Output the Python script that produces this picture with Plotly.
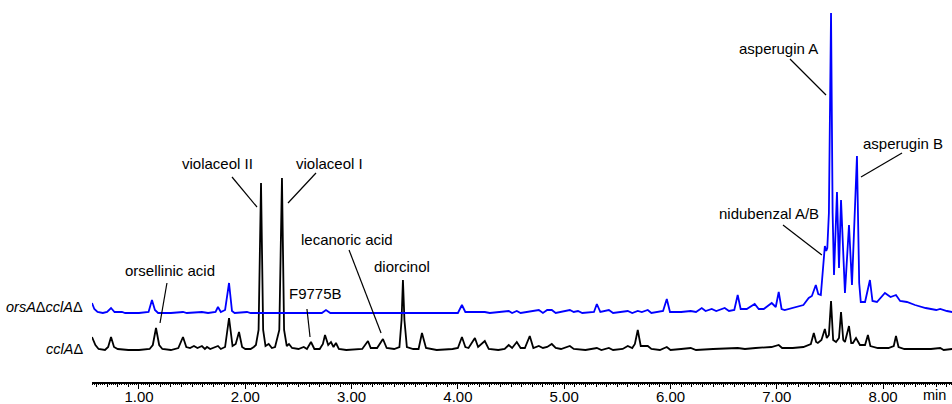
import plotly.graph_objects as go

# ---------------- data ----------------
# cclAΔ trace (black): retention time (min) and relative intensity
ccl_time = [0.558, 0.59, 0.62, 0.68, 0.71, 0.737, 0.765, 0.80, 0.90, 1.00, 1.10, 1.13, 1.16, 1.19, 1.22,
            1.30, 1.37, 1.414, 1.445, 1.48, 1.517, 1.55, 1.592, 1.62, 1.64, 1.67, 1.743, 1.77, 1.81, 1.847,
            1.88, 1.91, 1.941, 1.97, 2.00, 2.05, 2.08, 2.10, 2.125, 2.148, 2.168, 2.19, 2.22, 2.25, 2.28,
            2.32, 2.345, 2.365, 2.39, 2.411, 2.44, 2.50, 2.55, 2.58, 2.618, 2.65, 2.70, 2.73, 2.750, 2.78,
            2.806, 2.83, 2.853, 2.88, 2.95, 3.05, 3.10, 3.154, 3.18, 3.24, 3.295, 3.33, 3.40, 3.45, 3.47,
            3.483, 3.497, 3.52, 3.58, 3.63, 3.662, 3.70, 3.80, 3.95, 4.00, 4.038, 4.07, 4.10, 4.16, 4.19,
            4.253, 4.29, 4.38, 4.44, 4.478, 4.51, 4.554, 4.59, 4.63, 4.676, 4.71, 4.761, 4.80, 4.84, 4.883,
            4.92, 4.97, 5.053, 5.09, 5.20, 5.307, 5.35, 5.42, 5.46, 5.55, 5.598, 5.64, 5.665, 5.692, 5.72,
            5.786, 5.82, 5.90, 5.965, 6.00, 6.10, 6.19, 6.24, 6.35, 6.40, 6.632, 6.70, 6.80, 6.90, 6.95,
            7.018, 7.05, 7.15, 7.25, 7.32, 7.348, 7.37, 7.386, 7.42, 7.452, 7.47, 7.49, 7.510, 7.53, 7.557,
            7.585, 7.604, 7.625, 7.641, 7.679, 7.70, 7.716, 7.745, 7.782, 7.83, 7.857, 7.88, 7.905, 7.95,
            8.05, 8.10, 8.121, 8.145, 8.20, 8.35, 8.45, 8.537, 8.57, 8.65]
ccl_signal = [13, 5, 1, 0, 3, 13, 3, 1, 0, 0, 1, 5, 22, 5, 1,
              0, 2, 13, 3, 2, 4, 2, 4, 1, 3, 1, 4, 1, 3, 32,
              4, 6, 18, 3, 1, 1, 3, 5, 20, 167, 20, 4, 6, 2, 3,
              20, 172, 20, 4, 6, 2, 1, 3, 1, 8, 1, 1, 6, 15, 5,
              8, 3, 7, 1, 0, 1, 1, 9, 2, 2, 11, 2, 1, 3, 30,
              70, 30, 3, 1, 1, 17, 2, 0, 1, 2, 13, 3, 2, 12, 3,
              9, 1, 0, 1, 5, 2, 8, 2, 2, 14, 2, 4, 2, 3, 6,
              2, 1, 4, 1, 0, 2, 0, 2, 0, 1, 4, 2, 6, 20, 4,
              4, 1, 0, 3, 0, 1, 2, 0, 1, 1, 2, 1, 2, 3, 3,
              5, 2, 2, 3, 6, 17, 8, 7, 10, 21, 12, 15, 49, 10, 8,
              12, 38, 10, 8, 24, 7, 7, 12, 5, 5, 15, 4, 3, 2,
              2, 4, 14, 3, 1, 1, 1, 2, 0, 1]

# orsAΔcclAΔ trace (blue): retention time (min) and relative intensity
ors_time = [0.558, 0.58, 0.61, 0.66, 0.70, 0.737, 0.77, 0.80, 0.84, 0.87, 1.00, 1.09, 1.122, 1.15, 1.18,
            1.30, 1.414, 1.45, 1.592, 1.65, 1.72, 1.743, 1.77, 1.81, 1.847, 1.875, 1.90, 2.016, 2.05, 2.35,
            2.72, 2.759, 2.80, 3.00, 4.00, 4.038, 4.07, 4.16, 4.253, 4.30, 4.478, 4.51, 4.554, 4.59, 4.761,
            4.80, 4.84, 4.883, 4.92, 5.053, 5.09, 5.13, 5.17, 5.28, 5.307, 5.34, 5.42, 5.46, 5.598, 5.64,
            5.692, 5.73, 5.786, 5.82, 5.93, 5.965, 5.995, 6.10, 6.19, 6.24, 6.294, 6.33, 6.388, 6.43, 6.510,
            6.55, 6.60, 6.632, 6.66, 6.717, 6.792, 6.83, 6.877, 6.952, 6.99, 7.018, 7.045, 7.074, 7.15, 7.206,
            7.25, 7.300, 7.33, 7.367, 7.39, 7.414, 7.44, 7.452, 7.465, 7.475, 7.49, 7.510, 7.525, 7.538, 7.566,
            7.585, 7.604, 7.641, 7.679, 7.707, 7.754, 7.775, 7.79, 7.83, 7.876, 7.90, 7.942, 8.017, 8.07, 8.121,
            8.16, 8.224, 8.30, 8.40, 8.50, 8.537, 8.60, 8.65]
ors_signal = [10, 4, 1, 0, 1, 5, 1, 1, 1, 0, 0, 1, 13, 3, 0,
              0, 1, 0, 1, 0, 1, 6, 1, 3, 30, 2, 0, 1, 0, 0,
              0, 3, 0, 0, 0, 8, 1, 1, 1, 0, 2, 0, 2, 0, 3,
              0, 3, 3, 0, 3, 1, 2, 0, 1, 9, 1, 3, 0, 2, 0,
              2, 1, 3, 0, 2, 14, 1, 1, 2, 1, 5, 2, 4, 2, 5,
              2, 3, 18, 4, 4, 9, 4, 4, 10, 6, 21, 4, 3, 5, 7,
              8, 15, 17, 28, 19, 18, 50, 67, 62, 65, 100, 300, 100, 38, 121,
              45, 113, 20, 88, 28, 157, 30, 11, 11, 33, 12, 11, 20, 16, 18,
              12, 11, 8, 5, 3, 4, 2, 1]

trace_names = ["<i>orsA</i>Δ<i>cclA</i>Δ", "<i>cclA</i>Δ"]
major_ticks = [1, 2, 3, 4, 5, 6, 7, 8]
tick_labels = ["1.00", "2.00", "3.00", "4.00", "5.00", "6.00", "7.00", "8.00"]

# compound labels: text, text position (t, I), leader line start and end (t, I)
compounds = ["orsellinic acid", "violaceol II", "violaceol I", "F9775B", "lecanoric acid",
             "diorcinol", "asperugin A", "asperugin B", "nidubenzal A/B"]
label_t = [1.29, 1.74, 2.79, 2.66, 2.96, 3.47, 7.02, 8.19, 6.93]
label_i = [80, 187, 187, 57, 111, 84, 302, 207, 137]
lead_t0 = [1.263, 1.875, 2.665, 2.580, 2.976, None, 7.124, 8.178, 7.058]
lead_i0 = [67, 173, 177, 41, 100, None, 291, 197, 125]
lead_t1 = [1.198, 2.110, 2.402, 2.609, 3.277, None, 7.463, 7.792, 7.424]
lead_i1 = [27, 143, 147, 13, 17, None, 255, 173, 95]

OFFSET = 37  # vertical offset of the upper trace

FONT = "Arial, Liberation Sans, Helvetica, sans-serif"

fig = go.Figure()
fig.add_trace(go.Scatter(x=ccl_time, y=ccl_signal, mode="lines",
                         line=dict(color="black", width=1.8), hoverinfo="skip"))
fig.add_trace(go.Scatter(x=ors_time, y=[v + OFFSET for v in ors_signal], mode="lines",
                         line=dict(color="#0000ff", width=1.8), hoverinfo="skip"))
# helper (empty) trace to activate the fine-tick overlay axis
fig.add_trace(go.Scatter(x=[], y=[], xaxis="x2", yaxis="y", hoverinfo="skip"))

for txt, tx, ty, a0, b0, a1, b1 in zip(compounds, label_t, label_i, lead_t0, lead_i0, lead_t1, lead_i1):
    fig.add_annotation(x=tx, y=ty, text=txt, showarrow=False, xanchor="center", yanchor="middle",
                       font=dict(family=FONT, size=15, color="black"))
    if a0 is not None:
        fig.add_shape(type="line", x0=a0, y0=b0, x1=a1, y1=b1, xref="x", yref="y",
                      line=dict(color="black", width=1.2))

# trace names at the left
fig.add_annotation(x=-0.008, xref="paper", y=OFFSET + 6, yref="y", text=trace_names[0],
                   showarrow=False, xanchor="right", yanchor="middle",
                   font=dict(family=FONT, size=14.5, color="black"))
fig.add_annotation(x=-0.008, xref="paper", y=1, yref="y", text=trace_names[1],
                   showarrow=False, xanchor="right", yanchor="middle",
                   font=dict(family=FONT, size=14.5, color="black"))
# axis unit
fig.add_annotation(x=0.98, xref="paper", y=-0.034, yref="paper", text="min", showarrow=False,
                   xanchor="center", yanchor="middle", borderpad=0,
                   font=dict(family=FONT, size=14.5, color="black"))

xr = [0.558, 8.648]
fig.update_layout(
    width=952, height=404,
    margin=dict(l=92, r=0, t=0, b=22, autoexpand=False),
    paper_bgcolor="white", plot_bgcolor="white",
    showlegend=False,
    xaxis=dict(range=xr, showgrid=False, zeroline=False, showline=True, linecolor="black",
               linewidth=2, ticks="outside", tickvals=major_ticks, ticktext=tick_labels,
               ticklen=5, tickwidth=1, tickcolor="black", automargin=False,
               ticklabelstandoff=-5,
               tickfont=dict(family=FONT, size=15, color="black")),
    xaxis2=dict(range=xr, overlaying="x", anchor="y", side="bottom", showgrid=False,
                zeroline=False, showline=False, ticks="outside", tickmode="linear",
                tick0=0, dtick=0.1, ticklen=3.5, tickwidth=1, tickcolor="black",
                showticklabels=False, automargin=False,
                minor=dict(ticks="outside", tickmode="linear", tick0=0, dtick=0.02,
                           ticklen=2, tickwidth=1, tickcolor="black")),
    yaxis=dict(range=[-32, 350], visible=False, showgrid=False, zeroline=False, automargin=False),
)

fig.write_html("out.html", config={"displayModeBar": False},
               post_script="document.body.style.margin='0px';document.body.style.overflow='hidden';")
